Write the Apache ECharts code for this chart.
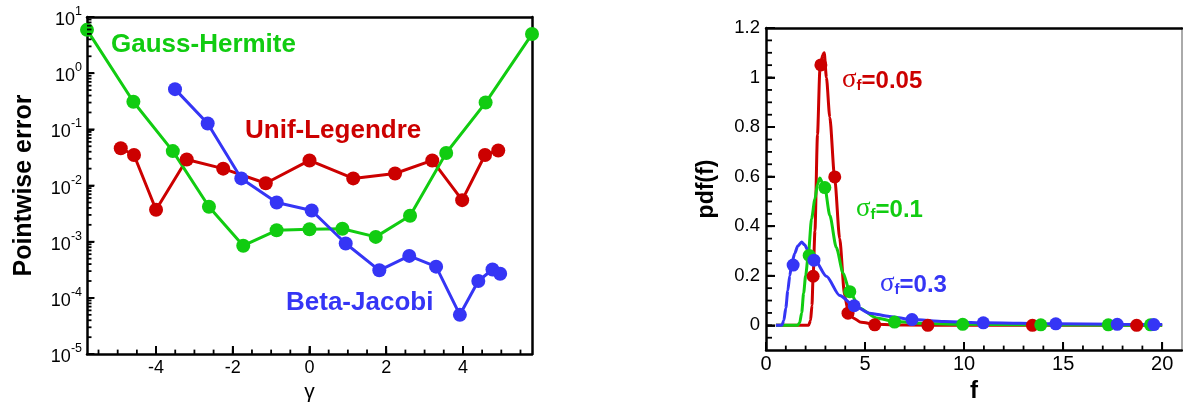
<!DOCTYPE html>
<html><head><meta charset="utf-8">
<script src="https://cdn.jsdelivr.net/npm/echarts@6/dist/echarts.min.js"></script>
<style>html,body{margin:0;padding:0;background:#fff}#c{width:1183px;height:408px}</style>
</head><body><div id="c"></div>
<script>
// ---------- Left panel data: pointwise error vs gamma ----------
const gammaGH = [-5.800, -4.591, -3.563, -2.621, -1.727, -0.857, 0, 0.857, 1.727, 2.621, 3.563, 4.591, 5.800];
const errGH   = [5.9, 0.31, 0.041, 0.0042, 0.00085, 0.0016, 0.00167, 0.0017, 0.00122, 0.0029, 0.038, 0.30, 4.97];
const gammaUL = [-4.92, -4.575, -4.00, -3.20, -2.25, -1.14, 0, 1.14, 2.23, 3.20, 3.98, 4.575, 4.92];
const errUL   = [0.046, 0.035, 0.0037, 0.029, 0.020, 0.011, 0.028, 0.0134, 0.0164, 0.028, 0.0055, 0.035, 0.042];
const gammaBJ = [-3.506, -2.654, -1.778, -0.855, 0.057, 0.944, 1.82, 2.60, 3.30, 3.92, 4.40, 4.77, 4.97];
const errBJ   = [0.52, 0.127, 0.0134, 0.0050, 0.0036, 0.00093, 0.00031, 0.00056, 0.00036, 0.00005, 0.00020, 0.00032, 0.00027];
const leftXTicks = [-4, -2, 0, 2, 4];
const leftYExponents = [-5, -4, -3, -2, -1, 0, 1];

// ---------- Right panel data: pdf(f) ----------
const redCurveX = [0.5, 2.15, 2.25, 2.32, 2.38, 2.47, 2.6, 2.72, 2.85, 2.94, 3.05, 3.22, 3.47, 3.72, 3.97, 4.14, 4.4, 4.8, 5.5, 7, 10, 15, 20];
const redCurveY = [0, 0, 0.02, 0.08, 0.2, 0.38, 0.77, 1.03, 1.09, 1.1, 1.0, 0.84, 0.59, 0.35, 0.12, 0.06, 0.03, 0.012, 0.004, 0.001, 0, 0, 0];
const greenCurveX = [0.5, 1.6, 1.7, 1.8, 1.9, 2.0, 2.13, 2.3, 2.47, 2.6, 2.72, 2.85, 2.97, 3.22, 3.55, 3.89, 4.23, 4.73, 5.57, 6.5, 8, 10, 13, 16, 20];
const greenCurveY = [0, 0, 0.01, 0.05, 0.13, 0.2, 0.28, 0.43, 0.51, 0.57, 0.595, 0.575, 0.555, 0.444, 0.314, 0.211, 0.136, 0.069, 0.03, 0.015, 0.007, 0.004, 0.002, 0.001, 0];
const blueCurveX = [0.5, 0.8, 0.9, 1.0, 1.1, 1.2, 1.3, 1.45, 1.6, 1.8, 1.95, 2.13, 2.47, 3.05, 3.72, 4.45, 5.23, 6.24, 7.37, 9, 11, 14.6, 17.7, 20];
const blueCurveY = [0, 0, 0.02, 0.07, 0.14, 0.2, 0.25, 0.29, 0.32, 0.336, 0.325, 0.30, 0.263, 0.198, 0.12, 0.079, 0.049, 0.036, 0.023, 0.015, 0.010, 0.006, 0.004, 0.003];
const redPtsX = [2.38, 2.77, 3.47, 4.14, 5.49, 8.17, 13.45, 18.71];
const redPtsY = [0.198, 1.051, 0.599, 0.049, 0.002, 0.0, 0.0, 0.0];
const greenPtsX = [2.18, 2.97, 4.23, 6.49, 9.93, 13.87, 17.28, 19.41];
const greenPtsY = [0.282, 0.556, 0.136, 0.013, 0.004, 0.002, 0.002, 0.002];
const bluePtsX = [1.37, 2.42, 4.45, 7.37, 10.97, 14.63, 17.73, 19.58];
const bluePtsY = [0.243, 0.263, 0.079, 0.023, 0.010, 0.006, 0.004, 0.003];
const rightXTicks = [0, 5, 10, 15, 20];
const rightYTicks = [0, 0.2, 0.4, 0.6, 0.8, 1, 1.2];

// ---------- styling ----------
const FONT = 'Liberation Sans, Arial, Helvetica, sans-serif';
const RED = '#cc0000', GREEN = '#11cc11', BLUE = '#3535f5';

const zip = (xs, ys) => xs.map((x, i) => [x, ys[i]]);
function range(a, b, step) { const r = []; for (let k = 0; a + k * step <= b + 1e-9; k++) r.push(+(a + k * step).toFixed(6)); return r; }

// tick positions (in axis values)
const leftXMinor = range(-5.5, 5.5, 0.5);
const leftYMajorVals = leftYExponents.map(e => Math.pow(10, e));
const leftYMinorVals = [];
for (let d = -5; d < 1; d++) for (let k = 2; k <= 9; k++) leftYMinorVals.push(k * Math.pow(10, d));
const rightXMinor = range(1, 19, 1);
const rightYMinor = range(-0.05, 1.15, 0.05);

const noLabel = () => ({ show: false });
const noSplit = () => ({ show: false });
const lineOn = (w, c) => ({ show: true, onZero: false, lineStyle: { color: c || '#000', width: w } });
const axTick = (len, vals) => ({ show: true, inside: true, length: len, customValues: vals, lineStyle: { color: '#000', width: 1.8 } });

const chart = echarts.init(document.getElementById('c'), null, { renderer: 'canvas' });

const lineSeries = (name, xs, ys, color) => ({
  type: 'line', name, xAxisIndex: 0, yAxisIndex: 0, data: zip(xs, ys),
  symbol: 'circle', symbolSize: 14, showAllSymbol: true,
  lineStyle: { color, width: 3 }, itemStyle: { color, opacity: 1 }, z: 3
});
const curve = (xs, ys, color) => ({
  type: 'line', xAxisIndex: 2, yAxisIndex: 2, data: zip(xs, ys), showSymbol: false,
  smooth: 0.25, smoothMonotone: 'x', lineStyle: { color, width: 3 }, z: 3
});
const pts = (xs, ys, color) => ({
  type: 'scatter', xAxisIndex: 2, yAxisIndex: 2, data: zip(xs, ys),
  symbol: 'circle', symbolSize: 13, itemStyle: { color, opacity: 1 }, z: 4
});
// inward tick marks placed through the axes' own scales (api.coord)
const ticks = (xi, yi, dim, values, other, len) => ({
  type: 'custom', xAxisIndex: xi, yAxisIndex: yi, silent: true, clip: false, z: 5,
  data: values.map(v => dim === 'x' ? [v, other] : [other, v]),
  encode: { x: 0, y: 1 },
  renderItem: (params, api) => {
    const p = api.coord([api.value(0), api.value(1)]);
    const cs = params.coordSys;
    const st = { stroke: '#000', lineWidth: 1.8 };
    if (dim === 'x') {
      const y0 = cs.y + cs.height;
      return { type: 'line', shape: { x1: p[0], y1: y0, x2: p[0], y2: y0 - len }, style: st };
    }
    const x0 = cs.x;
    return { type: 'line', shape: { x1: x0, y1: p[1], x2: x0 + len, y2: p[1] }, style: st };
  }
});

const sigmaRich = (color) => ({
  g: { fontFamily: 'Liberation Serif, serif', fontSize: 27, fill: color, verticalAlign: 'bottom', lineHeight: 30 },
  u: { fontFamily: FONT, fontWeight: 'bold', fontSize: 15, fill: color, verticalAlign: 'bottom', lineHeight: 5 },
  t: { fontFamily: FONT, fontWeight: 'bold', fontSize: 24, fill: color, verticalAlign: 'bottom', lineHeight: 30 }
});

const option = {
  animation: false,
  backgroundColor: '#fff',
  grid: [
    { left: 87, top: 17, width: 445, height: 342 },
    { left: 766, top: 28, width: 416, height: 334.5 }
  ],
  xAxis: [
    // 0: left panel bottom
    { gridIndex: 0, type: 'value', position: 'bottom', min: -5.8, max: 5.8, splitLine: noSplit(), axisLine: lineOn(2.5),
      axisTick: axTick(8, leftXTicks),
      axisLabel: { customValues: leftXTicks, margin: 5, fontSize: 18, color: '#000', fontFamily: FONT },
      name: 'γ', nameLocation: 'middle', nameGap: 22, nameTextStyle: { fontSize: 21, color: '#000', fontFamily: FONT } },
    // 1: left panel top border
    { gridIndex: 0, type: 'value', position: 'top', min: -5.8, max: 5.8, splitLine: noSplit(), axisLine: lineOn(2.5),
      axisTick: { show: false }, axisLabel: noLabel() },
    // 2: right panel bottom
    { gridIndex: 1, type: 'value', position: 'bottom', min: 0, max: 21, splitLine: noSplit(), axisLine: lineOn(2.5),
      axisTick: axTick(8, rightXTicks),
      axisLabel: { customValues: rightXTicks, margin: 4, fontSize: 20, color: '#000', fontFamily: FONT },
      name: 'f', nameLocation: 'middle', nameGap: 16, nameTextStyle: { fontSize: 24, fontWeight: 'bold', color: '#000', fontFamily: FONT } },
    // 3: right panel top border
    { gridIndex: 1, type: 'value', position: 'top', min: 0, max: 21, splitLine: noSplit(), axisLine: lineOn(2.5),
      axisTick: { show: false }, axisLabel: noLabel() }
  ],
  yAxis: [
    // 0: left panel data (log)
    { gridIndex: 0, type: 'log', logBase: 10, position: 'left', min: 1e-5, max: 10, splitLine: noSplit(), axisLine: lineOn(2.5),
      axisTick: { show: false }, axisLabel: noLabel() },
    // 1: left panel decade labels (exponent scale spanning the same decades as axis 0)
    { gridIndex: 0, type: 'value', position: 'left', min: -5, max: 1, interval: 1, splitLine: noSplit(), axisLine: { show: false, onZero: false },
      axisTick: axTick(7, leftYExponents),
      axisLabel: { customValues: leftYExponents, margin: 5, color: '#000', fontFamily: FONT,
        formatter: v => '{b|10}{s|' + Math.round(v) + '}',
        rich: { b: { fontSize: 18, fontFamily: FONT, color: '#000', verticalAlign: 'bottom', lineHeight: 24 },
                s: { fontSize: 12.5, fontFamily: FONT, color: '#000', verticalAlign: 'top', lineHeight: 14 } } },
      name: 'Pointwise error', nameLocation: 'middle', nameGap: 50, nameRotate: 90,
      nameTextStyle: { fontSize: 25, fontWeight: 'bold', color: '#000', fontFamily: FONT } },
    // 2: right panel data
    { gridIndex: 1, type: 'value', position: 'left', min: -0.1, max: 1.2, splitLine: noSplit(), axisLine: lineOn(2.5),
      axisTick: axTick(9, rightYTicks),
      axisLabel: { customValues: rightYTicks, margin: 6, fontSize: 18.5, color: '#000', fontFamily: FONT },
      name: 'pdf(f)', nameLocation: 'middle', nameGap: 48, nameRotate: 90,
      nameTextStyle: { fontSize: 23, fontWeight: 'bold', color: '#000', fontFamily: FONT } },
    // 3: left panel right border, 4: right panel right border
    { gridIndex: 0, type: 'value', position: 'right', min: -5, max: 1, splitLine: noSplit(), axisLine: lineOn(2.5),
      axisTick: { show: false }, axisLabel: noLabel() },
    { gridIndex: 1, type: 'value', position: 'right', min: -0.1, max: 1.2, splitLine: noSplit(), axisLine: lineOn(2, '#aaa'),
      axisTick: { show: false }, axisLabel: noLabel() }
  ],
  series: [
    lineSeries('Unif-Legendre', gammaUL, errUL, RED),
    lineSeries('Gauss-Hermite', gammaGH, errGH, GREEN),
    lineSeries('Beta-Jacobi', gammaBJ, errBJ, BLUE),
    curve(redCurveX, redCurveY, RED), pts(redPtsX, redPtsY, RED),
    curve(greenCurveX, greenCurveY, GREEN), pts(greenPtsX, greenPtsY, GREEN),
    curve(blueCurveX, blueCurveY, BLUE), pts(bluePtsX, bluePtsY, BLUE),
    ticks(0, 0, 'x', leftXTicks, 1, 8),
    ticks(0, 0, 'x', leftXMinor, 1, 4.5),
    ticks(0, 0, 'y', leftYMajorVals, 0, 7.5),
    ticks(0, 0, 'y', leftYMinorVals, 0, 4.5),
    ticks(2, 2, 'x', rightXTicks, 0.5, 8),
    ticks(2, 2, 'x', rightXMinor, 0.5, 4.5),
    ticks(2, 2, 'y', rightYTicks, 10, 9),
    ticks(2, 2, 'y', rightYMinor, 10, 6)
  ],
  graphic: [
    { type: 'text', left: 111, top: 32, style: { text: 'Gauss-Hermite', fill: GREEN, font: 'bold 26px ' + FONT } },
    { type: 'text', left: 245, top: 118, style: { text: 'Unif-Legendre', fill: RED, font: 'bold 26px ' + FONT } },
    { type: 'text', left: 286, top: 290, style: { text: 'Beta-Jacobi', fill: BLUE, font: 'bold 26px ' + FONT } },
    { type: 'text', left: 842, top: 66, style: { text: '{g|σ}{u|f}{t|=0.05}', fill: RED, rich: sigmaRich(RED) } },
    { type: 'text', left: 856, top: 195, style: { text: '{g|σ}{u|f}{t|=0.1}', fill: GREEN, rich: sigmaRich(GREEN) } },
    { type: 'text', left: 880, top: 270, style: { text: '{g|σ}{u|f}{t|=0.3}', fill: BLUE, rich: sigmaRich(BLUE) } }
  ]
};
chart.setOption(option);
</script></body></html>
